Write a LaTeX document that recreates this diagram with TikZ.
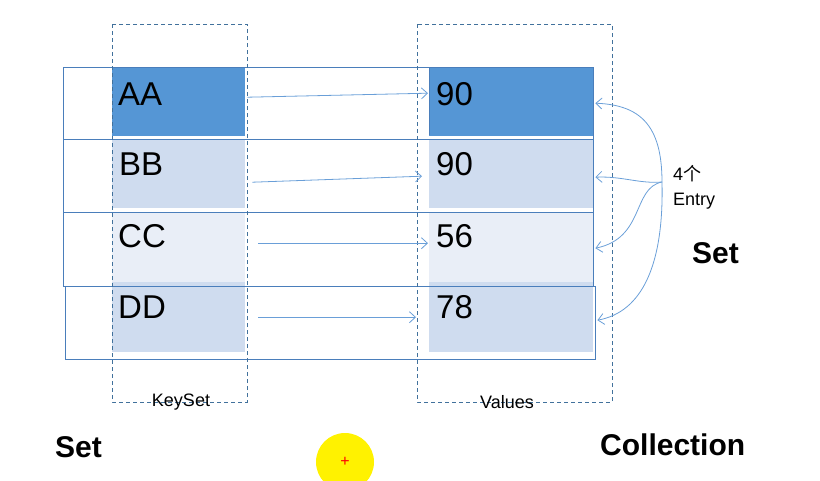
\documentclass[tikz,border=0pt]{standalone}
\usepackage{fontspec}
\setmainfont{Liberation Sans}
\newfontfamily\cjkfont{Noto Sans CJK SC}
\usetikzlibrary{arrows.meta}
\definecolor{rowline}{HTML}{4A7EBB}
\definecolor{dashline}{HTML}{41719C}
\definecolor{darkfill}{HTML}{5596D5}
\definecolor{midfill}{HTML}{CFDCEF}
\definecolor{lightfill}{HTML}{E9EEF7}
\definecolor{arrowcol}{HTML}{6A9FD8}
\tikzset{
  fillbox/.style={draw=none, inner sep=0pt, minimum width=#1, minimum height=69pt},
  bigtxt/.style={anchor=base west, inner sep=0pt, font=\fontsize{33}{36}\selectfont},
  rowbox/.style={draw=rowline, line width=0.9pt},
  colbox/.style={draw=dashline, line width=0.7pt, dash pattern=on 4pt off 3pt},
  collabel/.style={inner sep=0pt, font=\fontsize{18}{20}\selectfont},
  maparrow/.style={draw=arrowcol, line width=0.8pt, -{Straight Barb[length=6pt,width=11pt]}},
  boldtxt/.style={inner sep=0pt, anchor=base west, font=\bfseries\fontsize{30}{32}\selectfont}
}
\begin{document}
\begin{tikzpicture}[x=1pt,y=-1pt]
\useasboundingbox (0,0) rectangle (820,480);
% key fills
\node[fillbox=133pt, fill=darkfill, anchor=north west] (k1) at (112,67) {};
\node[fillbox=133pt, fill=midfill, anchor=north west] (k2) at (112,139) {};
\node[fillbox=133pt, fill=lightfill, anchor=north west, minimum height=70pt] (k3) at (112,212) {};
\node[fillbox=133pt, fill=midfill, anchor=north west, minimum height=70pt] (k4) at (112,282) {};
% value fills
\node[fillbox=164pt, fill=darkfill, anchor=north west] (v1) at (429,67) {};
\node[fillbox=164pt, fill=midfill, anchor=north west] (v2) at (429,139) {};
\node[fillbox=164pt, fill=lightfill, anchor=north west, minimum height=70pt] (v3) at (429,212) {};
\node[fillbox=164pt, fill=midfill, anchor=north west, minimum height=70pt] (v4) at (429,282) {};
% row outlines
\draw[rowbox] (63,67) rectangle (593,139);
\draw[rowbox] (63,139) rectangle (593,212);
\draw[rowbox] (63,212) rectangle (593,286);
\draw[rowbox] (65,286) rectangle (595,359);
\draw[rowbox] (429,67) -- (429,135);
% dashed columns
\draw[colbox] (112,24) rectangle (247,402);
\draw[colbox] (417,24) rectangle (612,402);
\node[collabel] (ks) at (181,402) {KeySet};
\node[collabel] (vs) at (507,402) {Values};
% texts
\node[bigtxt] (ta) at (118,105) {AA};
\node[bigtxt] (tb) at (119,175) {BB};
\node[bigtxt] (tc) at (118,247) {CC};
\node[bigtxt] (td) at (118,318) {DD};
\node[bigtxt] (t1) at (436,105) {90};
\node[bigtxt] (t2) at (436,175) {90};
\node[bigtxt] (t3) at (436,247) {56};
\node[bigtxt] (t4) at (436,318) {78};
% key -> value arrows
\draw[maparrow] ([xshift=2pt,yshift=4.5pt]k1.east) -- ([xshift=-1pt,yshift=8.5pt]v1.west);
\draw[maparrow] ([xshift=7pt,yshift=-8.5pt]k2.east) -- ([xshift=-7pt,yshift=-2.5pt]v2.west);
\draw[maparrow] ([xshift=13pt,yshift=4pt]k3.east) -- ([xshift=-1pt,yshift=4pt]v3.west);
\draw[maparrow] ([xshift=13pt,yshift=0pt]k4.east) -- ([xshift=-13pt,yshift=0pt]v4.west);
% entry label and curves
\node[inner sep=0pt, anchor=base west, font=\fontsize{18}{20}\selectfont] (e1) at (673,180) {4{\cjkfont 个}};
\node[inner sep=0pt, anchor=base west, font=\fontsize{18}{20}\selectfont] (e2) at (673,205) {Entry};
\coordinate (hub) at (662,182);
\draw[maparrow] (hub) .. controls (662,125) and (640,105) .. ([xshift=2pt,yshift=-1.5pt]v1.east);
\draw[maparrow] (hub) .. controls (640,184) and (622,176) .. ([xshift=2pt,yshift=-3.5pt]v2.east);
\draw[maparrow] (hub) .. controls (632,188) and (645,238) .. ([xshift=2pt,yshift=-1pt]v3.east);
\draw[maparrow] (hub) .. controls (664,265) and (642,312) .. ([xshift=4pt,yshift=-3pt]v4.east);
% Set / Collection labels
\node[boldtxt] (sr) at (692,263) {Set};
\node[boldtxt] (sl) at (55,457) {Set};
\node[boldtxt] (co) at (600,455) {Collection};
% cursor highlight
\node[circle, fill=yellow, minimum size=58pt, inner sep=0pt] (cur) at (345,462) {};
\node[text=red, inner sep=0pt, font=\fontsize{16}{16}\selectfont] (plus) at (cur.center) {+};
\end{tikzpicture}
\end{document}
